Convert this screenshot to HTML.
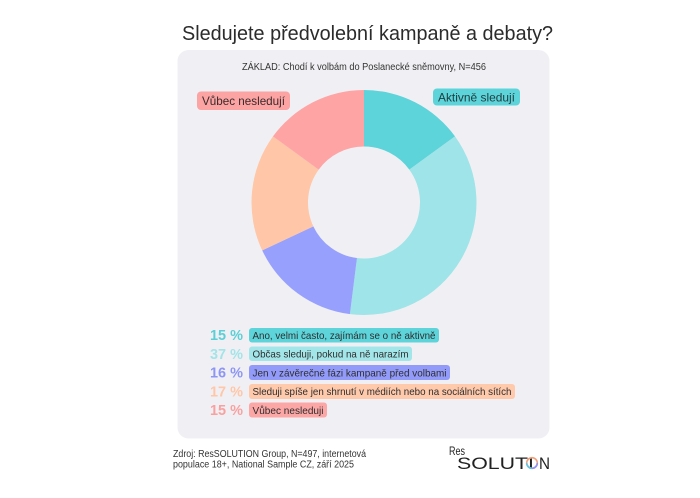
<!DOCTYPE html>
<html>
<head>
<meta charset="utf-8">
<style>
html,body{margin:0;padding:0;background:#ffffff;}
svg{display:block;}
text{font-family:"Liberation Sans", sans-serif;}
</style>
</head>
<body>
<svg width="700" height="498" viewBox="0 0 700 498" xmlns="http://www.w3.org/2000/svg">
  <rect width="700" height="498" fill="#ffffff"/>
  <!-- Title -->
  <text x="182" y="40" font-size="20.5" fill="#2b2b2b" textLength="371" lengthAdjust="spacingAndGlyphs">Sledujete předvolební kampaně a debaty?</text>
  <!-- Card -->
  <rect x="177.5" y="50" width="372" height="388.5" rx="11" fill="#f0f0f4"/>
  <!-- Subtitle -->
  <text x="242" y="70" font-size="10" fill="#333" textLength="244" lengthAdjust="spacingAndGlyphs">ZÁKLAD: Chodí k volbám do Poslanecké sněmovny, N=456</text>

  <!-- Donut -->
  <path d="M364,90 A112.5,112.5 0 0 1 455.01,136.37 L409.30,169.58 A56,56 0 0 0 364,146.5 Z" fill="#5dd3da"/>
  <path d="M455.01,136.37 A112.5,112.5 0 0 1 349.90,314.11 L356.98,258.06 A56,56 0 0 0 409.30,169.58 Z" fill="#9ee4e8"/>
  <path d="M349.90,314.11 A112.5,112.5 0 0 1 262.21,250.40 L313.33,226.34 A56,56 0 0 0 356.98,258.06 Z" fill="#97a1fd"/>
  <path d="M262.21,250.40 A112.5,112.5 0 0 1 272.99,136.37 L318.70,169.58 A56,56 0 0 0 313.33,226.34 Z" fill="#ffc6a7"/>
  <path d="M272.99,136.37 A112.5,112.5 0 0 1 364,90 L364,146.5 A56,56 0 0 0 318.70,169.58 Z" fill="#fea4a4"/>

  <!-- Labels -->
  <rect x="197" y="91.5" width="93" height="18.5" rx="4" fill="#fca3a3"/>
  <text x="202" y="105" font-size="12" fill="#3a2a2a" textLength="83" lengthAdjust="spacingAndGlyphs">Vůbec nesledují</text>
  <rect x="433" y="88.5" width="87" height="17" rx="4" fill="#5dd3da"/>
  <text x="438" y="101.5" font-size="12" fill="#1f3d3f" textLength="77" lengthAdjust="spacingAndGlyphs">Aktivně sledují</text>

  <!-- Legend -->
  <g font-weight="bold" font-size="15">
    <text x="210" y="340" fill="#5ccfd6" textLength="33" lengthAdjust="spacingAndGlyphs">15 %</text>
    <text x="210" y="358.8" fill="#a3e4e8" textLength="33" lengthAdjust="spacingAndGlyphs">37 %</text>
    <text x="210" y="377.6" fill="#8d96f4" textLength="33" lengthAdjust="spacingAndGlyphs">16 %</text>
    <text x="210" y="396.4" fill="#ffc6a8" textLength="33" lengthAdjust="spacingAndGlyphs">17 %</text>
    <text x="210" y="415.2" fill="#f9a1a1" textLength="33" lengthAdjust="spacingAndGlyphs">15 %</text>
  </g>
  <rect x="249" y="328" width="190" height="14.5" rx="3" fill="#5dd3da"/>
  <rect x="249" y="346.5" width="163" height="14.5" rx="3" fill="#a3e6ea"/>
  <rect x="249" y="365" width="201" height="15" rx="3" fill="#939bfa"/>
  <rect x="249" y="384" width="266" height="15" rx="3" fill="#ffc9ab"/>
  <rect x="249" y="402.5" width="78" height="15" rx="3" fill="#fca6a6"/>
  <g font-size="10.5" fill="#2e2e2e">
    <text x="252.5" y="339" textLength="183" lengthAdjust="spacingAndGlyphs">Ano, velmi často, zajímám se o ně aktivně</text>
    <text x="252.5" y="357.5" textLength="156" lengthAdjust="spacingAndGlyphs">Občas sleduji, pokud na ně narazím</text>
    <text x="252.5" y="376.3" textLength="194" lengthAdjust="spacingAndGlyphs">Jen v závěrečné fázi kampaně před volbami</text>
    <text x="252.5" y="395.2" textLength="259" lengthAdjust="spacingAndGlyphs">Sleduji spíše jen shrnutí v médiích nebo na sociálních sítích</text>
    <text x="252.5" y="413.8" textLength="71" lengthAdjust="spacingAndGlyphs">Vůbec nesleduji</text>
  </g>

  <!-- Footer -->
  <text x="173" y="457" font-size="10" fill="#333" textLength="193" lengthAdjust="spacingAndGlyphs">Zdroj: ResSOLUTION Group, N=497, internetová</text>
  <text x="173" y="467.5" font-size="10" fill="#333" textLength="181" lengthAdjust="spacingAndGlyphs">populace 18+, National Sample CZ, září 2025</text>

  <!-- Logo -->
  <text x="449" y="455" font-size="11.5" fill="#222" textLength="16" lengthAdjust="spacingAndGlyphs">Res</text>
  <text x="457" y="469" font-size="16.5" fill="#222" textLength="77" lengthAdjust="spacingAndGlyphs">SOLUTI</text>
  <circle cx="532" cy="463" r="5.3" fill="none" stroke="#f0a07a" stroke-width="1.6"/>
  <path d="M532,468.3 A5.3,5.3 0 0 1 526.7,463" fill="none" stroke="#5dc6e8" stroke-width="1.6"/>
  <path d="M537.3,463 A5.3,5.3 0 0 1 532,468.3" fill="none" stroke="#8f95f7" stroke-width="1.6"/>
  <text x="539" y="469" font-size="16.5" fill="#222" textLength="11" lengthAdjust="spacingAndGlyphs">N</text>
</svg>
</body>
</html>
